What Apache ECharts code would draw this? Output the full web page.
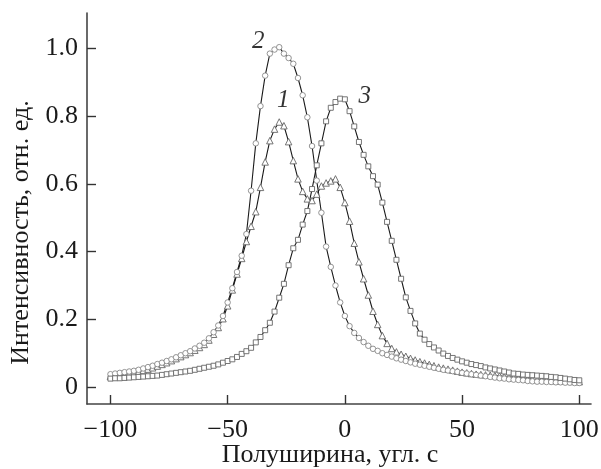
<!DOCTYPE html>
<html>
<head>
<meta charset="utf-8">
<script src="https://cdn.jsdelivr.net/npm/echarts@6/dist/echarts.min.js"></script>
<style>
  html, body { margin: 0; padding: 0; background: #fff; }
  #chart { width: 601px; height: 469px; }
</style>
</head>
<body>
<div id="chart"></div>
<script>
// x: полуширина, угл. с (шаг 2)
const xs = [
  -100, -98, -96, -94, -92, -90, -88, -86, -84, -82, -80, -78, -76, -74, -72, -70, -68, -66, -64, -62,
  -60, -58, -56, -54, -52, -50, -48, -46, -44, -42, -40, -38, -36, -34, -32, -30, -28, -26, -24, -22,
  -20, -18, -16, -14, -12, -10, -8, -6, -4, -2, 0, 2, 4, 6, 8, 10, 12, 14, 16, 18,
  20, 22, 24, 26, 28, 30, 32, 34, 36, 38, 40, 42, 44, 46, 48, 50, 52, 54, 56, 58,
  60, 62, 64, 66, 68, 70, 72, 74, 76, 78, 80, 82, 84, 86, 88, 90, 92, 94, 96, 98, 100
];

// кривая 1 (треугольники)
const curve1 = [
  0.032, 0.034, 0.036, 0.038, 0.040, 0.042, 0.045, 0.049, 0.053, 0.057, 0.062, 0.067, 0.072, 0.078, 0.084, 0.090, 0.096, 0.102, 0.109, 0.117,
  0.126, 0.139, 0.156, 0.176, 0.202, 0.240, 0.287, 0.334, 0.380, 0.430, 0.475, 0.518, 0.590, 0.665, 0.728, 0.762, 0.783, 0.772, 0.725, 0.669,
  0.615, 0.578, 0.556, 0.551, 0.570, 0.594, 0.603, 0.609, 0.615, 0.590, 0.545, 0.490, 0.425, 0.370, 0.320, 0.272, 0.224, 0.185, 0.152, 0.129,
  0.114, 0.104, 0.097, 0.091, 0.085, 0.080, 0.075, 0.071, 0.067, 0.063, 0.059, 0.056, 0.053, 0.050, 0.047, 0.044, 0.042, 0.040, 0.038, 0.037,
  0.036, 0.035, 0.034, 0.033, 0.031, 0.030, 0.029, 0.028, 0.026, 0.025, 0.023, 0.022, 0.021, 0.021, 0.020, 0.019, 0.018, 0.018, 0.017, 0.017, 0.016
];

// кривая 2 (кружки)
const curve2 = [
  0.038, 0.040, 0.042, 0.044, 0.046, 0.048, 0.051, 0.055, 0.059, 0.063, 0.068, 0.072, 0.077, 0.082, 0.088, 0.094, 0.100, 0.106, 0.114, 0.122,
  0.131, 0.144, 0.162, 0.182, 0.210, 0.250, 0.292, 0.340, 0.388, 0.452, 0.580, 0.720, 0.830, 0.920, 0.985, 0.997, 1.004, 0.985, 0.972, 0.955,
  0.913, 0.862, 0.797, 0.712, 0.610, 0.515, 0.415, 0.355, 0.300, 0.250, 0.210, 0.180, 0.160, 0.145, 0.133, 0.122, 0.113, 0.107, 0.100, 0.095,
  0.090, 0.085, 0.081, 0.077, 0.073, 0.069, 0.066, 0.063, 0.060, 0.057, 0.054, 0.051, 0.049, 0.047, 0.045, 0.042, 0.040, 0.038, 0.036, 0.034,
  0.032, 0.030, 0.028, 0.026, 0.025, 0.023, 0.022, 0.021, 0.020, 0.018, 0.017, 0.016, 0.016, 0.015, 0.015, 0.014, 0.014, 0.013, 0.013, 0.012, 0.012
];

// кривая 3 (квадраты)
const curve3 = [
  0.025, 0.026, 0.026, 0.027, 0.028, 0.029, 0.030, 0.031, 0.032, 0.033, 0.034, 0.036, 0.038, 0.040, 0.042, 0.044, 0.046, 0.048, 0.051, 0.054,
  0.057, 0.060, 0.063, 0.067, 0.072, 0.077, 0.082, 0.089, 0.098, 0.106, 0.116, 0.132, 0.148, 0.168, 0.190, 0.223, 0.264, 0.305, 0.360, 0.410,
  0.435, 0.480, 0.520, 0.585, 0.655, 0.720, 0.785, 0.825, 0.842, 0.852, 0.850, 0.815, 0.770, 0.724, 0.686, 0.652, 0.623, 0.598, 0.545, 0.488,
  0.432, 0.376, 0.320, 0.265, 0.225, 0.188, 0.158, 0.140, 0.127, 0.117, 0.108, 0.099, 0.092, 0.086, 0.081, 0.076, 0.072, 0.068, 0.065, 0.062,
  0.058, 0.055, 0.052, 0.049, 0.046, 0.043, 0.040, 0.039, 0.037, 0.036, 0.035, 0.034, 0.033, 0.032, 0.030, 0.029, 0.027, 0.025, 0.023, 0.021, 0.020
];

const xTicks = [-100, -50, 0, 50, 100];
const yTicks = [0, 0.2, 0.4, 0.6, 0.8, 1.0];

// подписи кривых: [текст, x, y]
const curveLabels = [
  ["1", -26.3, 0.848],
  ["2", -36.9, 1.021],
  ["3", 8.5, 0.858],
];

const serif = "'Liberation Serif', 'DejaVu Serif', serif";
const ink = "#1a1a1a";

let chart = echarts.init(document.getElementById("chart"));

function makeSeries(name, ys, symbol, size, stroke) {
  return {
    name: name,
    type: "line",
    data: xs.map((x, i) => [x, ys[i]]),
    symbol: symbol,
    symbolSize: size,
    showAllSymbol: true,
    lineStyle: { color: "#1a1a1a", width: 1.1 },
    itemStyle: { color: "#fff", borderColor: stroke, borderWidth: 0.9 },
    emphasis: { disabled: true },
    z: 2,
  };
}

let option = {
  animation: false,
  backgroundColor: "#fff",
  grid: { left: 87, right: 10, top: 13, bottom: 65, outerBoundsMode: "none" },
  xAxis: {
    type: "value",
    min: -110,
    max: 105,
    name: "Полуширина, угл. с",
    nameLocation: "middle",
    nameGap: 38,
    nameMoveOverlap: false,
    nameTextStyle: { fontFamily: serif, fontSize: 26, color: ink, padding: [0, 18, 0, 0] },
    splitLine: { show: false },
    axisLine: { onZero: false, lineStyle: { color: "#444", width: 1.6 } },
    axisTick: { inside: true, length: 9, customValues: xTicks, lineStyle: { color: "#333", width: 1.4 } },
    axisLabel: {
      customValues: xTicks,
      fontFamily: serif,
      fontSize: 26,
      color: ink,
      margin: 13,
      formatter: (v) => (v < 0 ? "\u2212" + Math.abs(v) : String(v)),
    },
  },
  yAxis: {
    type: "value",
    min: -0.05,
    max: 1.105,
    name: "Интенсивность, отн. ед.",
    nameLocation: "middle",
    nameGap: 53,
    nameMoveOverlap: false,
    nameTextStyle: { fontFamily: serif, fontSize: 26, color: ink, padding: [0, 48, 0, 0] },
    splitLine: { show: false },
    axisLine: { onZero: false, lineStyle: { color: "#444", width: 1.6 } },
    axisTick: { inside: true, length: 9, customValues: yTicks, lineStyle: { color: "#333", width: 1.4 } },
    axisLabel: {
      customValues: yTicks,
      fontFamily: serif,
      fontSize: 26,
      color: ink,
      margin: 9,
      formatter: (v) => (v === 0 ? "0" : v.toFixed(1)),
    },
  },
  series: [
    makeSeries("1", curve1, "triangle", 6.5, "#666"),
    makeSeries("2", curve2, "circle", 5.5, "#888"),
    makeSeries("3", curve3, "rect", 5, "#666"),
    {
      name: "labels",
      type: "scatter",
      symbolSize: 0,
      silent: true,
      data: curveLabels.map((d) => ({ value: [d[1], d[2]], name: d[0] })),
      label: {
        show: true,
        position: "inside",
        formatter: (p) => p.name,
        fontFamily: serif,
        fontStyle: "italic",
        fontSize: 25,
        color: "#000",
      },
      z: 5,
    },
  ],
};

option && chart.setOption(option);
</script>
</body>
</html>
